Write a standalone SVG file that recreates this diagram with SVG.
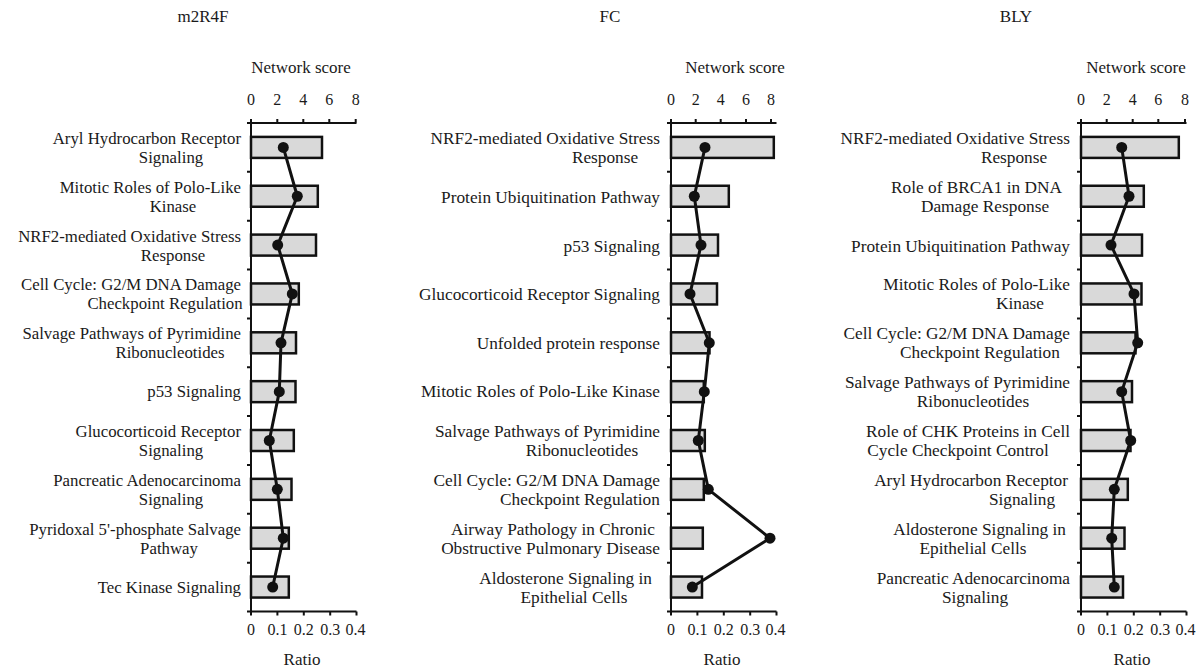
<svg xmlns="http://www.w3.org/2000/svg" width="1196" height="670" viewBox="0 0 1196 670">
<style>
.t{font-family:"Liberation Serif","Times New Roman",serif;font-size:16px;fill:#1a1a1a}
.L{font-size:17.3px}
.S{font-size:16.8px}
.h{font-size:17px}
.m{text-anchor:middle}
.e{text-anchor:end}
.bar{fill:#d9d9d9;stroke:#111;stroke-width:2.5}
.ax{stroke:#111;stroke-width:2;fill:none}
.ln{stroke:#111;stroke-width:3;fill:none;stroke-linejoin:round}
.dot{fill:#111}
</style>
<rect width="1196" height="670" fill="#fff"/>

<!-- Panel 1: m2R4F -->
<g id="panel-m2R4F">
<text class="t h m" x="203" y="22">m2R4F</text>
<text class="t h m" x="301" y="73">Network score</text>
<g class="t m"><text x="251" y="105">0</text><text x="277.3" y="105">2</text><text x="303.3" y="105">4</text><text x="329.3" y="105">6</text><text x="355.7" y="105">8</text></g>
<path class="ax" d="M247,123H356.5M251,123V611.5H356.5M251,123v-4M277.3,123v-4M303.3,123v-4M329.3,123v-4M355.7,123v-4M247,171.85h4M247,220.7h4M247,269.55h4M247,318.4h4M247,367.25h4M247,416.1h4M247,464.95h4M247,513.8h4M247,562.65h4M247,611.5h4M251,611.5v4M277.4,611.5v4M303.8,611.5v4M330.2,611.5v4M356.5,611.5v4"/>
<g class="t m"><text x="251" y="634.5">0</text><text x="277.4" y="634.5">0.1</text><text x="303.8" y="634.5">0.2</text><text x="330.2" y="634.5">0.3</text><text x="355.5" y="634.5">0.4</text></g>
<text class="t h m" x="302" y="665">Ratio</text>
<g id="bars-m2R4F">
<rect class="bar" x="251" y="136.9" width="71" height="21"/>
<rect class="bar" x="251" y="185.75" width="66.8" height="21"/>
<rect class="bar" x="251" y="234.6" width="65" height="21"/>
<rect class="bar" x="251" y="283.45" width="47.8" height="21"/>
<rect class="bar" x="251" y="332.3" width="45" height="21"/>
<rect class="bar" x="251" y="381.15" width="44.5" height="21"/>
<rect class="bar" x="251" y="430" width="42.8" height="21"/>
<rect class="bar" x="251" y="478.85" width="40.5" height="21"/>
<rect class="bar" x="251" y="527.7" width="37.8" height="21"/>
<rect class="bar" x="251" y="576.55" width="37.8" height="21"/>
</g>
<g class="t S">
<text class="e" x="241" y="143.9">Aryl Hydrocarbon Receptor</text><text class="m" x="171" y="162.9">Signaling</text>
<text class="e" x="241" y="192.75">Mitotic Roles of Polo-Like</text><text class="m" x="173" y="211.75">Kinase</text>
<text class="e" x="241" y="241.6">NRF2-mediated Oxidative Stress</text><text class="m" x="173" y="260.6">Response</text>
<text class="e" x="241" y="290.45">Cell Cycle: G2/M DNA Damage</text><text class="m" x="165" y="309.45">Checkpoint Regulation</text>
<text class="e" x="241" y="339.3">Salvage Pathways of Pyrimidine</text><text class="m" x="170" y="358.3">Ribonucleotides</text>
<text class="e" x="241" y="397.15">p53 Signaling</text>
<text class="e" x="241" y="437">Glucocorticoid Receptor</text><text class="m" x="171" y="456">Signaling</text>
<text class="e" x="241" y="485.85">Pancreatic Adenocarcinoma</text><text class="m" x="171" y="504.85">Signaling</text>
<text class="e" x="241" y="534.7">Pyridoxal 5'-phosphate Salvage</text><text class="m" x="169" y="553.7">Pathway</text>
<text class="e" x="241" y="592.55">Tec Kinase Signaling</text>
</g>
</g>

<!-- Panel 2: FC -->
<g id="panel-FC">
<text class="t h m" x="610" y="22">FC</text>
<text class="t h m" x="735" y="73">Network score</text>
<g class="t m"><text x="671" y="105">0</text><text x="695.7" y="105">2</text><text x="720.7" y="105">4</text><text x="746" y="105">6</text><text x="771" y="105">8</text></g>
<path class="ax" d="M667,123H776.5M671,123V611.5H776.5M671,123v-4M695.7,123v-4M720.7,123v-4M746,123v-4M771,123v-4M667,171.85h4M667,220.7h4M667,269.55h4M667,318.4h4M667,367.25h4M667,416.1h4M667,464.95h4M667,513.8h4M667,562.65h4M667,611.5h4M671,611.5v4M697.4,611.5v4M723.8,611.5v4M750.2,611.5v4M776.5,611.5v4"/>
<g class="t m"><text x="671" y="634.5">0</text><text x="697.4" y="634.5">0.1</text><text x="723.8" y="634.5">0.2</text><text x="750.2" y="634.5">0.3</text><text x="775.5" y="634.5">0.4</text></g>
<text class="t h m" x="722" y="665">Ratio</text>
<g id="bars-FC">
<rect class="bar" x="671" y="136.9" width="102.8" height="21"/>
<rect class="bar" x="671" y="185.75" width="57.8" height="21"/>
<rect class="bar" x="671" y="234.6" width="47" height="21"/>
<rect class="bar" x="671" y="283.45" width="46" height="21"/>
<rect class="bar" x="671" y="332.3" width="38.5" height="21"/>
<rect class="bar" x="671" y="381.15" width="32.8" height="21"/>
<rect class="bar" x="671" y="430" width="33.8" height="21"/>
<rect class="bar" x="671" y="478.85" width="32.8" height="21"/>
<rect class="bar" x="671" y="527.7" width="31.8" height="21"/>
<rect class="bar" x="671" y="576.55" width="31" height="21"/>
</g>
<g class="t L">
<text class="e" x="660" y="143.9">NRF2-mediated Oxidative Stress</text><text class="m" x="605" y="162.9">Response</text>
<text class="e" x="660" y="202.75">Protein Ubiquitination Pathway</text>
<text class="e" x="660" y="251.6">p53 Signaling</text>
<text class="e" x="660" y="300.45">Glucocorticoid Receptor Signaling</text>
<text class="e" x="660" y="349.3">Unfolded protein response</text>
<text class="e" x="660" y="397.15">Mitotic Roles of Polo-Like Kinase</text>
<text class="e" x="660" y="437">Salvage Pathways of Pyrimidine</text><text class="m" x="582" y="456">Ribonucleotides</text>
<text class="e" x="660" y="485.85">Cell Cycle: G2/M DNA Damage</text><text class="m" x="580" y="504.85">Checkpoint Regulation</text>
<text class="e" x="655" y="534.7">Airway Pathology in Chronic</text><text class="e" x="660" y="553.7">Obstructive Pulmonary Disease</text>
<text class="e" x="652" y="583.55">Aldosterone Signaling in</text><text class="m" x="574" y="602.55">Epithelial Cells</text>
</g>
</g>

<!-- Panel 3: BLY -->
<g id="panel-BLY">
<text class="t h m" x="1016" y="22">BLY</text>
<text class="t h m" x="1136" y="73">Network score</text>
<g class="t m"><text x="1081" y="105">0</text><text x="1106.7" y="105">2</text><text x="1132.7" y="105">4</text><text x="1158.3" y="105">6</text><text x="1185" y="105">8</text></g>
<path class="ax" d="M1077,123H1186.5M1081,123V611.5H1186.5M1081,123v-4M1106.7,123v-4M1132.7,123v-4M1158.3,123v-4M1185,123v-4M1077,171.85h4M1077,220.7h4M1077,269.55h4M1077,318.4h4M1077,367.25h4M1077,416.1h4M1077,464.95h4M1077,513.8h4M1077,562.65h4M1077,611.5h4M1081,611.5v4M1107.4,611.5v4M1133.8,611.5v4M1160.2,611.5v4M1186.5,611.5v4"/>
<g class="t m"><text x="1081" y="634.5">0</text><text x="1107.4" y="634.5">0.1</text><text x="1133.8" y="634.5">0.2</text><text x="1160.2" y="634.5">0.3</text><text x="1185.5" y="634.5">0.4</text></g>
<text class="t h m" x="1132" y="665">Ratio</text>
<g id="bars-BLY">
<rect class="bar" x="1081" y="136.9" width="97.8" height="21"/>
<rect class="bar" x="1081" y="185.75" width="62.8" height="21"/>
<rect class="bar" x="1081" y="234.6" width="61" height="21"/>
<rect class="bar" x="1081" y="283.45" width="60.5" height="21"/>
<rect class="bar" x="1081" y="332.3" width="54.5" height="21"/>
<rect class="bar" x="1081" y="381.15" width="51" height="21"/>
<rect class="bar" x="1081" y="430" width="49.5" height="21"/>
<rect class="bar" x="1081" y="478.85" width="46.8" height="21"/>
<rect class="bar" x="1081" y="527.7" width="43.5" height="21"/>
<rect class="bar" x="1081" y="576.55" width="42" height="21"/>
</g>
<g class="t L">
<text class="e" x="1070" y="143.9">NRF2-mediated Oxidative Stress</text><text class="m" x="1014" y="162.9">Response</text>
<text class="e" x="1062" y="192.75">Role of BRCA1 in DNA</text><text class="m" x="985" y="211.75">Damage Response</text>
<text class="e" x="1070" y="251.6">Protein Ubiquitination Pathway</text>
<text class="e" x="1070" y="290.45">Mitotic Roles of Polo-Like</text><text class="m" x="1020" y="309.45">Kinase</text>
<text class="e" x="1070" y="339.3">Cell Cycle: G2/M DNA Damage</text><text class="m" x="980" y="358.3">Checkpoint Regulation</text>
<text class="e" x="1070" y="388.15">Salvage Pathways of Pyrimidine</text><text class="m" x="973" y="407.15">Ribonucleotides</text>
<text class="e" x="1070" y="437">Role of CHK Proteins in Cell</text><text class="m" x="958" y="456">Cycle Checkpoint Control</text>
<text class="e" x="1068" y="485.85">Aryl Hydrocarbon Receptor</text><text class="m" x="1022" y="504.85">Signaling</text>
<text class="e" x="1066" y="534.7">Aldosterone Signaling in</text><text class="m" x="973" y="553.7">Epithelial Cells</text>
<text class="e" x="1070" y="583.55">Pancreatic Adenocarcinoma</text><text class="m" x="975" y="602.55">Signaling</text>
</g>
</g>

<!-- Connectors: network score lines -->
<g id="connectors">
<polyline class="ln" points="283.3,147.4 297.3,196.25 277.7,245.1 292.3,293.95 281,342.8 279.3,391.65 269.3,440.5 277.3,489.35 283.3,538.2 272.7,587.05"/>
<polyline class="ln" points="705,147.4 694.3,196.25 701,245.1 690,293.95 709.3,342.8 704.3,391.65 698.3,440.5 708.3,489.35 770,538.2 692.3,587.05"/>
<polyline class="ln" points="1121.7,147.4 1129,196.25 1111,245.1 1134,293.95 1137.7,342.8 1121.7,391.65 1130.7,440.5 1114.3,489.35 1111.7,538.2 1114.3,587.05"/>
<g class="dot">
<circle cx="283.3" cy="147.4" r="5.5"/><circle cx="297.3" cy="196.25" r="5.5"/><circle cx="277.7" cy="245.1" r="5.5"/><circle cx="292.3" cy="293.95" r="5.5"/><circle cx="281" cy="342.8" r="5.5"/><circle cx="279.3" cy="391.65" r="5.5"/><circle cx="269.3" cy="440.5" r="5.5"/><circle cx="277.3" cy="489.35" r="5.5"/><circle cx="283.3" cy="538.2" r="5.5"/><circle cx="272.7" cy="587.05" r="5.5"/>
<circle cx="705" cy="147.4" r="5.5"/><circle cx="694.3" cy="196.25" r="5.5"/><circle cx="701" cy="245.1" r="5.5"/><circle cx="690" cy="293.95" r="5.5"/><circle cx="709.3" cy="342.8" r="5.5"/><circle cx="704.3" cy="391.65" r="5.5"/><circle cx="698.3" cy="440.5" r="5.5"/><circle cx="708.3" cy="489.35" r="5.5"/><circle cx="770" cy="538.2" r="5.5"/><circle cx="692.3" cy="587.05" r="5.5"/>
<circle cx="1121.7" cy="147.4" r="5.5"/><circle cx="1129" cy="196.25" r="5.5"/><circle cx="1111" cy="245.1" r="5.5"/><circle cx="1134" cy="293.95" r="5.5"/><circle cx="1137.7" cy="342.8" r="5.5"/><circle cx="1121.7" cy="391.65" r="5.5"/><circle cx="1130.7" cy="440.5" r="5.5"/><circle cx="1114.3" cy="489.35" r="5.5"/><circle cx="1111.7" cy="538.2" r="5.5"/><circle cx="1114.3" cy="587.05" r="5.5"/>
</g>
</g>
</svg>
